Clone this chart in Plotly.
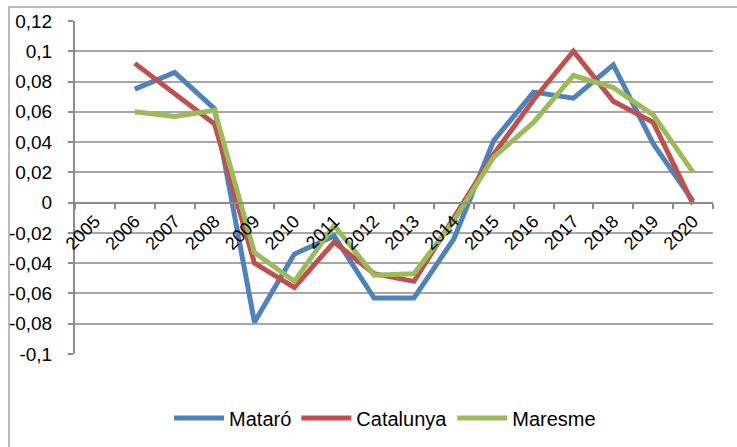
import plotly.graph_objects as go

years = [str(y) for y in range(2005, 2021)]
mataro = [None, 0.075, 0.086, 0.062, -0.079, -0.034, -0.022, -0.063, -0.063, -0.024,
          0.041, 0.073, 0.069, 0.091, 0.039, 0.001]
catalunya = [None, 0.092, 0.072, 0.052, -0.040, -0.056, -0.026, -0.047, -0.052, -0.010,
             0.032, 0.068, 0.100, 0.067, 0.053, -0.001]
maresme = [None, 0.060, 0.057, 0.061, -0.033, -0.052, -0.015, -0.048, -0.047, -0.012,
           0.030, 0.053, 0.084, 0.076, 0.058, 0.020]

ytick_vals = [0.12, 0.1, 0.08, 0.06, 0.04, 0.02, 0, -0.02, -0.04, -0.06, -0.08, -0.1]
ytick_text = ["0,12", "0,1", "0,08", "0,06", "0,04", "0,02", "0", "-0,02", "-0,04",
              "-0,06", "-0,08", "-0,1"]

series = [("Mataró", mataro, "#4F81BD"),
          ("Catalunya", catalunya, "#C0504D"),
          ("Maresme", maresme, "#9BBB59")]

W, H = 737, 447
L, R, T, B = 75, 24, 21, 93
ymin, ymax = -0.1, 0.12

fig = go.Figure()
for name, vals, col in series:
    fig.add_trace(go.Scatter(x=years, y=vals, name=name, mode="lines",
                             line=dict(color=col, width=5)))

zero_pos = (0 - ymin) / (ymax - ymin)
plot_w = W - L - R
plot_h = H - T - B

def px_x(p):
    return (p - L) / plot_w

def px_y(p):
    return (H - B - p) / plot_h

fig.update_layout(
    width=W, height=H,
    margin=dict(l=L, r=R, t=T, b=B, autoexpand=False),
    paper_bgcolor="white", plot_bgcolor="white",
    font=dict(family="Liberation Sans", size=19, color="black"),
    showlegend=True,
    legend=dict(orientation="h", x=0.486, xanchor="center", y=px_y(418),
                yanchor="middle", font=dict(size=20), itemwidth=50,
                bgcolor="rgba(0,0,0,0)"),
    xaxis=dict(type="category", range=[-0.5, 15.5], anchor="free",
               position=zero_pos, showline=True, linecolor="#8C8C8C", linewidth=2,
               ticks="outside", ticklen=5, tickcolor="#8C8C8C", tickwidth=2,
               tickson="boundaries", tickangle=-45, showgrid=False,
               automargin=False, tickfont=dict(size=18)),
    yaxis=dict(range=[ymin, ymax], tickvals=ytick_vals, ticktext=ytick_text,
               showline=True, linecolor="#8C8C8C", linewidth=2,
               ticks="outside", ticklen=5, tickcolor="#8C8C8C", tickwidth=2,
               showgrid=True, gridcolor="#A6A6A6", gridwidth=1.5,
               zeroline=False, ticklabelstandoff=12, automargin=False,
               tickfont=dict(size=19)),
    shapes=[dict(type="rect", xref="paper", yref="paper",
                 x0=px_x(9), x1=px_x(745), y0=px_y(455), y1=px_y(7),
                 line=dict(color="#A6A6A6", width=1.5), layer="below")],
)

fig.write_html("out.html")
